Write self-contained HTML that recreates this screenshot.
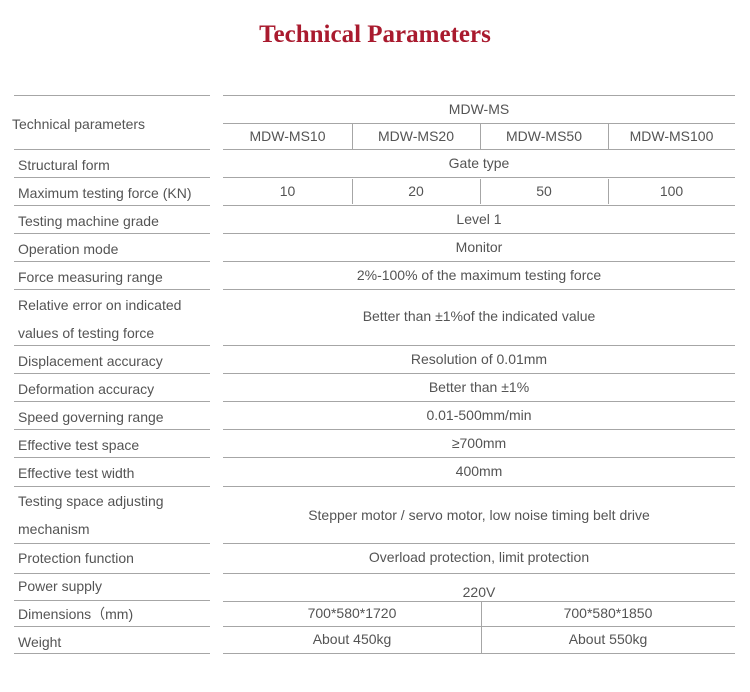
<!DOCTYPE html>
<html>
<head>
<meta charset="utf-8">
<style>
  html,body{margin:0;padding:0;background:#fff;}
  body{width:750px;height:692px;position:relative;overflow:hidden;font-family:"Liberation Sans",Arial,sans-serif;}
  .title{position:absolute;left:0;width:750px;top:22px;text-align:center;font-family:"Liberation Serif","Times New Roman",serif;font-weight:bold;font-size:25px;line-height:25px;color:#a91a2e;}
  .h{position:absolute;height:1px;background:#a6a6a6;}
  .v{position:absolute;width:1px;background:#a6a6a6;}
  .t{position:absolute;font-size:14px;line-height:20px;height:20px;color:#545454;white-space:nowrap;}
  .c{text-align:center;}
</style>
</head>
<body>
<div class="title">Technical Parameters</div>

<!-- left lines -->
<div class="h" style="left:14px;width:196px;top:95px"></div>
<div class="h" style="left:14px;width:196px;top:149px"></div>
<div class="h" style="left:14px;width:196px;top:177px"></div>
<div class="h" style="left:14px;width:196px;top:205px"></div>
<div class="h" style="left:14px;width:196px;top:233px"></div>
<div class="h" style="left:14px;width:196px;top:261px"></div>
<div class="h" style="left:14px;width:196px;top:289px"></div>
<div class="h" style="left:14px;width:196px;top:345px"></div>
<div class="h" style="left:14px;width:196px;top:373px"></div>
<div class="h" style="left:14px;width:196px;top:401px"></div>
<div class="h" style="left:14px;width:196px;top:429px"></div>
<div class="h" style="left:14px;width:196px;top:457px"></div>
<div class="h" style="left:14px;width:196px;top:486px"></div>
<div class="h" style="left:14px;width:196px;top:543px"></div>
<div class="h" style="left:14px;width:196px;top:573px"></div>
<div class="h" style="left:14px;width:196px;top:600px"></div>
<div class="h" style="left:14px;width:196px;top:626px"></div>
<div class="h" style="left:14px;width:196px;top:653px"></div>

<!-- right lines -->
<div class="h" style="left:223px;width:512px;top:95px"></div>
<div class="h" style="left:223px;width:512px;top:123px"></div>
<div class="h" style="left:223px;width:512px;top:149px"></div>
<div class="h" style="left:223px;width:512px;top:177px"></div>
<div class="h" style="left:223px;width:512px;top:205px"></div>
<div class="h" style="left:223px;width:512px;top:233px"></div>
<div class="h" style="left:223px;width:512px;top:261px"></div>
<div class="h" style="left:223px;width:512px;top:289px"></div>
<div class="h" style="left:223px;width:512px;top:345px"></div>
<div class="h" style="left:223px;width:512px;top:373px"></div>
<div class="h" style="left:223px;width:512px;top:401px"></div>
<div class="h" style="left:223px;width:512px;top:429px"></div>
<div class="h" style="left:223px;width:512px;top:457px"></div>
<div class="h" style="left:223px;width:512px;top:486px"></div>
<div class="h" style="left:223px;width:512px;top:543px"></div>
<div class="h" style="left:223px;width:512px;top:573px"></div>
<div class="h" style="left:223px;width:512px;top:601px"></div>
<div class="h" style="left:223px;width:512px;top:626px"></div>
<div class="h" style="left:223px;width:512px;top:653px"></div>

<!-- verticals -->
<div class="v" style="left:352px;top:124px;height:25px"></div>
<div class="v" style="left:480px;top:124px;height:25px"></div>
<div class="v" style="left:608px;top:124px;height:25px"></div>
<div class="v" style="left:352px;top:179px;height:25px"></div>
<div class="v" style="left:480px;top:179px;height:25px"></div>
<div class="v" style="left:608px;top:179px;height:25px"></div>
<div class="v" style="left:481px;top:602px;height:51px"></div>

<!-- left labels -->
<div class="t" style="left:12px;top:114px">Technical parameters</div>
<div class="t" style="left:18px;top:155px">Structural form</div>
<div class="t" style="left:18px;top:183px">Maximum testing force (KN)</div>
<div class="t" style="left:18px;top:211px">Testing machine grade</div>
<div class="t" style="left:18px;top:239px">Operation mode</div>
<div class="t" style="left:18px;top:267px">Force measuring range</div>
<div class="t" style="left:18px;top:295px">Relative error on indicated</div>
<div class="t" style="left:18px;top:323px">values of testing force</div>
<div class="t" style="left:18px;top:351px">Displacement accuracy</div>
<div class="t" style="left:18px;top:379px">Deformation accuracy</div>
<div class="t" style="left:18px;top:407px">Speed governing range</div>
<div class="t" style="left:18px;top:435px">Effective test space</div>
<div class="t" style="left:18px;top:463px">Effective test width</div>
<div class="t" style="left:18px;top:491px">Testing space adjusting</div>
<div class="t" style="left:18px;top:519px">mechanism</div>
<div class="t" style="left:18px;top:548px">Protection function</div>
<div class="t" style="left:18px;top:576px">Power supply</div>
<div class="t" style="left:18px;top:604px">Dimensions（mm)</div>
<div class="t" style="left:18px;top:632px">Weight</div>

<!-- right values -->
<div class="t c" style="left:223px;width:512px;top:99px">MDW-MS</div>
<div class="t c" style="left:223px;width:129px;top:126px">MDW-MS10</div>
<div class="t c" style="left:352px;width:128px;top:126px">MDW-MS20</div>
<div class="t c" style="left:480px;width:128px;top:126px">MDW-MS50</div>
<div class="t c" style="left:608px;width:127px;top:126px">MDW-MS100</div>
<div class="t c" style="left:223px;width:512px;top:153px">Gate type</div>
<div class="t c" style="left:223px;width:129px;top:181px">10</div>
<div class="t c" style="left:352px;width:128px;top:181px">20</div>
<div class="t c" style="left:480px;width:128px;top:181px">50</div>
<div class="t c" style="left:608px;width:127px;top:181px">100</div>
<div class="t c" style="left:223px;width:512px;top:209px">Level 1</div>
<div class="t c" style="left:223px;width:512px;top:237px">Monitor</div>
<div class="t c" style="left:223px;width:512px;top:265px">2%-100% of the maximum testing force</div>
<div class="t c" style="left:223px;width:512px;top:306px">Better than ±1%of the indicated value</div>
<div class="t c" style="left:223px;width:512px;top:349px">Resolution of 0.01mm</div>
<div class="t c" style="left:223px;width:512px;top:377px">Better than ±1%</div>
<div class="t c" style="left:223px;width:512px;top:405px">0.01-500mm/min</div>
<div class="t c" style="left:223px;width:512px;top:433px">≥700mm</div>
<div class="t c" style="left:223px;width:512px;top:461px">400mm</div>
<div class="t c" style="left:223px;width:512px;top:505px">Stepper motor / servo motor, low noise timing belt drive</div>
<div class="t c" style="left:223px;width:512px;top:547px">Overload protection, limit protection</div>
<div class="t c" style="left:223px;width:512px;top:582px">220V</div>
<div class="t c" style="left:223px;width:258px;top:603px">700*580*1720</div>
<div class="t c" style="left:481px;width:254px;top:603px">700*580*1850</div>
<div class="t c" style="left:223px;width:258px;top:629px">About 450kg</div>
<div class="t c" style="left:481px;width:254px;top:629px">About 550kg</div>
</body>
</html>
